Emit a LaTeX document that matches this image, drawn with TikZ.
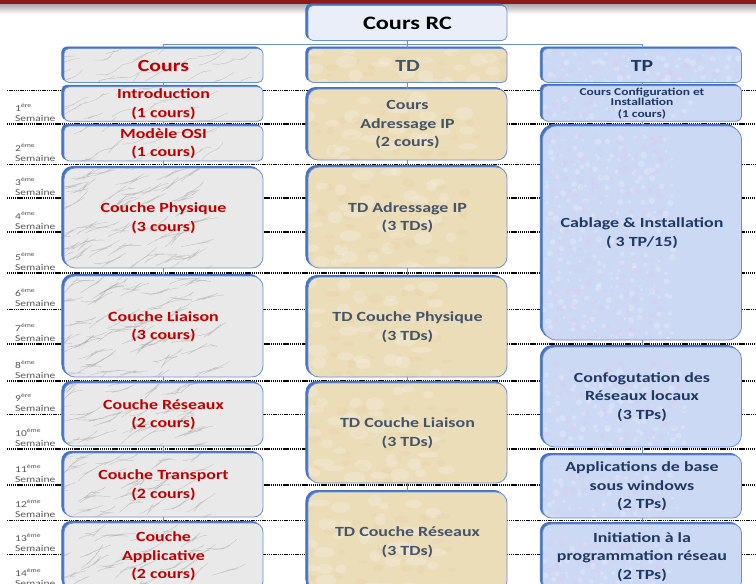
\documentclass[tikz,border=0pt]{standalone}
\usepackage{fontspec}
\setmainfont{Carlito}[FakeStretch=1.28]
\usetikzlibrary{shadows}
\definecolor{barred}{HTML}{8E1A1A}
\definecolor{edgeblue}{HTML}{4472C4}
\definecolor{thinblue}{HTML}{6A8FD4}
\definecolor{marble}{HTML}{E9E9E9}
\definecolor{vein}{HTML}{8E8E8E}
\definecolor{parch}{HTML}{ECDDB9}
\definecolor{parchdark}{HTML}{D8BF8C}
\definecolor{tpblue}{HTML}{CBD9F4}
\definecolor{tppink}{HTML}{DCCAEB}
\definecolor{rcfill}{HTML}{E9EEF8}
\definecolor{coursred}{HTML}{C00000}
\definecolor{tdtext}{HTML}{44546A}
\definecolor{tptext}{HTML}{1F3864}
\definecolor{weekgray}{HTML}{595959}
\tikzset{
  box/.style={draw=thinblue, line width=0.8pt, inner sep=2pt, align=center,
    minimum width=199pt,
    font=\bfseries\fontsize{14}{18.5}\selectfont,
    general shadow={fill=edgeblue, draw=edgeblue, shadow xshift=-2.2pt, shadow yshift=1.6pt}},
  marbletex/.style={path picture={
    \begin{scope}[shift={(path picture bounding box.center)}]
    \foreach \gx in {-115,-93,...,95} \foreach \j in {0,...,#1}
      \draw[vein, line width=0.4pt, opacity=0.4, line join=round]
        (\gx+rand*11, {(\j-#1/2)*18+rand*9}) -- ++(6+rand*3, -2.5+rand*3.5) -- ++(6+rand*3, -2.5+rand*3.5)
        -- ++(6+rand*3, -2.5+rand*3.5) -- ++(6+rand*3, -2.5+rand*3.5);
    \end{scope}}},
  parchtex/.style={path picture={
    \begin{scope}[shift={(path picture bounding box.center)}]
    \foreach \gx in {-100,-78,...,100} \foreach \j in {0,...,#1} {
      \fill[white, opacity=0.2] (\gx+rand*10, {(\j-#1/2)*20+rand*10}) ellipse ({8+rand*3} and {4.5+rand*2});
      \fill[parchdark, opacity=0.15] (\gx+11+rand*8, {(\j-#1/2)*20+10+rand*8}) ellipse ({5+rand*2} and {3+rand*1.5});
    }
    \end{scope}}},
  bluetex/.style={path picture={
    \begin{scope}[shift={(path picture bounding box.center)}]
    \foreach \gx in {-102,-90,...,102} \foreach \j in {0,...,#1} {
      \fill[tppink, opacity=0.4] (\gx+rand*6, {(\j-#1/2)*10+rand*6}) circle ({2.3+rand*1});
      \fill[white, opacity=0.22] (\gx+6+rand*5, {(\j-#1/2)*10+5+rand*5}) circle ({2.3+rand*1});
    }
    \end{scope}}},
  cbox/.style={box, fill=marble, text=coursred, marbletex=#1},
  dbox/.style={box, fill=parch, text=tdtext, parchtex=#1},
  pbox/.style={box, fill=tpblue, text=tptext, bluetex=#1},
  head/.style={font=\bfseries\fontsize{17}{20}\selectfont, minimum height=34pt, rounded corners=5pt},
  septhin/.style={line width=0.7pt, dash pattern=on 1.4pt off 0.8pt},
  septhick/.style={line width=1.3pt, dash pattern=on 1.2pt off 0.7pt},
  week/.style={font=\fontsize{9}{10}\selectfont, text=weekgray, align=left, inner sep=0pt, anchor=south west},
  conn/.style={draw=thinblue, line width=0.8pt}
}
\begin{document}
\begin{tikzpicture}[x=1pt,y=-1pt]
\pgfmathsetseed{4242}
\useasboundingbox (0,0) rectangle (756,584);
\fill[white] (0,0) rectangle (756,584);
% top bar
\shade[top color=gray!70, bottom color=white] (0,3.5) rectangle (756,14);
\fill[barred] (0,0) rectangle (756,3.5);
% week separators
\foreach \yy in {90,164,309,414,520,554} \draw[septhin] (7,\yy) -- (756,\yy);
\foreach \yy in {124,198,232,273,344,381,449,485} \draw[septhick] (7,\yy) -- (756,\yy);
% week labels
\foreach \n/\s/\yy in {1/ère/124,2/ème/164,3/ème/198,4/ème/232,5/ème/273,6/ème/309,7/ème/344,8/ème/381,9/ère/414,10/ème/449,11/ème/485,12/ème/520,13/ème/554,14/ème/589}
  \node[week] (w\n) at (15,\yy-2) {\n\textsuperscript{\s}\\Semaine};
% root
\node[box, fill=rcfill, text=black, minimum height=35pt, rounded corners=5pt,
  font=\bfseries\fontsize{19}{22}\selectfont] (rc) at (407.5,23) {Cours RC};
% column 1
\node[cbox=2, head] (cours) at (163.5,65.5) {Cours};
\node[cbox=2, minimum height=34pt, rounded corners=5pt] (intro) at (163.5,104) {Introduction\\(1 cours)};
\node[cbox=2, minimum height=35pt, rounded corners=5pt] (osi) at (163.5,143.5) {Modèle OSI\\(1 cours)};
\node[cbox=6, minimum height=100pt, rounded corners=11pt] (phys) at (163.5,218) {Couche Physique\\(3 cours)};
\node[cbox=6, minimum height=101pt, rounded corners=11pt] (liai) at (163.5,326.5) {Couche Liaison\\(3 cours)};
\node[cbox=4, minimum height=63pt, rounded corners=9pt] (res) at (163.5,414.5) {Couche Réseaux\\(2 cours)};
\node[cbox=4, minimum height=64pt, rounded corners=9pt] (trans) at (163.5,485) {Couche Transport\\(2 cours)};
\node[cbox=4, minimum height=67pt, rounded corners=9pt] (app) at (163.5,556.5) {Couche\\Applicative\\(2 cours)};
% column 2
\node[dbox=2, head] (td) at (407.5,65.5) {TD};
\node[dbox=4, minimum height=71pt, rounded corners=10pt] (adrc) at (407.5,124.5) {Cours\\Adressage IP\\(2 cours)};
\node[dbox=5, minimum height=101pt, rounded corners=11pt] (tdadr) at (407.5,217.5) {TD Adressage IP\\(3 TDs)};
\node[dbox=5, minimum height=100pt, rounded corners=11pt] (tdphys) at (407.5,327) {TD Couche Physique\\(3 TDs)};
\node[dbox=5, minimum height=100pt, rounded corners=11pt] (tdliai) at (407.5,433) {TD Couche Liaison\\(3 TDs)};
\node[dbox=5, minimum height=100pt, rounded corners=11pt] (tdres) at (407.5,542) {TD Couche Réseaux\\(3 TDs)};
% column 3
\node[pbox=4, head] (tp) at (642,65.5) {TP};
\node[pbox=4, minimum height=35pt, rounded corners=5pt, font=\bfseries\fontsize{10.5}{10.5}\selectfont] (conf) at (642,103.5) {Cours Configuration et\\Installation\\[1.5pt](1 cours)};
\node[pbox=22, minimum height=214pt, rounded corners=14pt] (cabl) at (642,233) {Cablage \& Installation\\( 3 TP/15)};
\node[pbox=10, minimum height=100pt, rounded corners=12pt] (lan) at (642,397) {Confogutation des\\Réseaux locaux\\(3 TPs)};
\node[pbox=7, minimum height=63pt, rounded corners=9pt] (appl) at (642,486.5) {Applications de base\\sous windows\\(2 TPs)};
\node[pbox=7, minimum height=66pt, rounded corners=9pt] (prog) at (642,557) {Initiation à la\\programmation réseau\\(2 TPs)};
% tree connectors
\coordinate (bus) at (407.5,44.5);
\draw[conn] (cours.north) |- (bus) -| (tp.north);
\draw[conn] (rc.south) -- (td.north);
\draw[conn] (cours) -- (intro);
\draw[conn] (intro) -- (osi);
\draw[conn] (osi) -- (phys);
\draw[conn] (phys) -- (liai);
\draw[conn] (liai) -- (res);
\draw[conn] (res) -- (trans);
\draw[conn] (trans) -- (app);
\draw[conn] (td) -- (adrc);
\draw[conn] (adrc) -- (tdadr);
\draw[conn] (tdadr) -- (tdphys);
\draw[conn] (tdphys) -- (tdliai);
\draw[conn] (tdliai) -- (tdres);
\draw[conn] (tp) -- (conf);
\draw[conn] (conf) -- (cabl);
\draw[conn] (cabl) -- (lan);
\draw[conn] (lan) -- (appl);
\draw[conn] (appl) -- (prog);
\end{tikzpicture}
\end{document}
